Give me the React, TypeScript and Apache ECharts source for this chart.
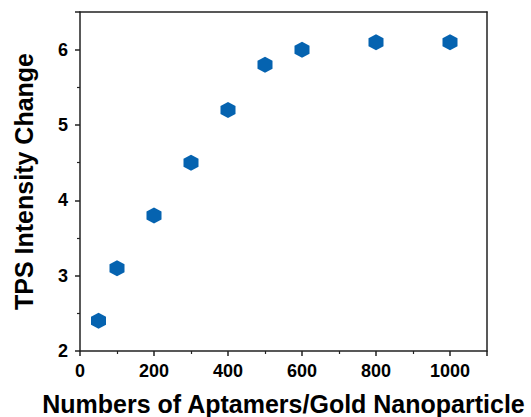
import React, { useEffect, useRef } from "react";
import * as echarts from "echarts";

// Aptamer loading per gold nanoparticle vs. TPS intensity change
const aptamerCounts = [50, 100, 200, 300, 400, 500, 600, 800, 1000];
const tpsChange = [2.4, 3.1, 3.8, 4.5, 5.2, 5.8, 6.0, 6.1, 6.1];

// pointy-top hexagon marker
const hexagon =
  "path://M0,-1 L0.866,-0.5 L0.866,0.5 L0,1 L-0.866,0.5 L-0.866,-0.5 Z";

export default function App() {
  const ref = useRef<HTMLDivElement>(null);

  useEffect(() => {
    if (!ref.current) return;
    const chart = echarts.init(ref.current, null, { renderer: "svg" });
    const axisColor = "#222";
    const font = {
      fontFamily: "Liberation Sans, Arial, sans-serif",
      fontWeight: "bold" as const,
      color: "#000",
    };
    const frameLine = { show: true, onZero: false, lineStyle: { color: axisColor, width: 1.5 } };
    const frameAxis = {
      type: "value" as const,
      axisLine: frameLine,
      axisTick: { show: false },
      axisLabel: { show: false },
      splitLine: { show: false },
    };
    chart.setOption({
      animation: false,
      backgroundColor: "#fff",
      grid: {
        left: 80,
        right: 44,
        top: 12,
        bottom: 66,
        containLabel: false,
        outerBoundsMode: "none",
      },
      xAxis: [
        {
          type: "value",
          min: 0,
          max: 1100,
          interval: 200,
          name: "Numbers of Aptamers/Gold Nanoparticle",
          nameLocation: "middle",
          nameGap: 40,
          nameTextStyle: { ...font, fontSize: 25 },
          axisLine: frameLine,
          axisTick: { show: true, inside: false, length: 5, lineStyle: { color: axisColor, width: 1.5 } },
          minorTick: { show: true, splitNumber: 2, length: 3, lineStyle: { color: axisColor, width: 1.2 } },
          splitLine: { show: false },
          axisLabel: {
            ...font,
            fontSize: 18,
            margin: 11,
            formatter: (v: number) => (v > 1000 ? "" : String(v)),
          },
        },
        { ...frameAxis, position: "top", min: 0, max: 1100 },
      ],
      yAxis: [
        {
          type: "value",
          min: 2,
          max: 6.5,
          interval: 1,
          name: "TPS Intensity Change",
          nameLocation: "middle",
          nameGap: 44,
          nameTextStyle: { ...font, fontSize: 25 },
          axisLine: frameLine,
          axisTick: { show: true, inside: false, length: 5, lineStyle: { color: axisColor, width: 1.5 } },
          minorTick: { show: true, splitNumber: 2, length: 3, lineStyle: { color: axisColor, width: 1.2 } },
          splitLine: { show: false },
          axisLabel: {
            ...font,
            fontSize: 18,
            margin: 12,
            formatter: (v: number) => (v > 6 ? "" : String(v)),
          },
        },
        { ...frameAxis, position: "right", min: 2, max: 6.5 },
      ],
      series: [
        {
          type: "scatter",
          xAxisIndex: 0,
          yAxisIndex: 0,
          data: aptamerCounts.map((x, i) => [x, tpsChange[i]]),
          symbol: hexagon,
          symbolSize: [15, 16],
          itemStyle: { color: "#0563B0", opacity: 1 },
        },
      ],
    });
    return () => chart.dispose();
  }, []);

  return <div ref={ref} style={{ width: 531, height: 417, position: "absolute", left: 0, top: 0 }} />;
}
